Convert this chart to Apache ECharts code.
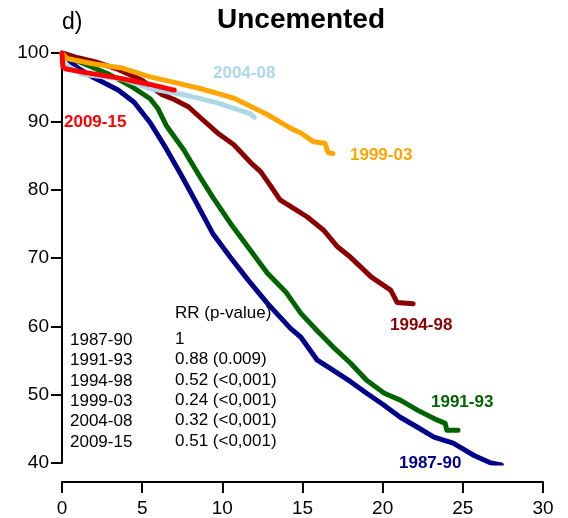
<!DOCTYPE html>
<html>
<head>
<meta charset="utf-8">
<script src="https://cdn.jsdelivr.net/npm/echarts@6/dist/echarts.min.js"></script>
<style>
  html, body { margin: 0; padding: 0; background: #fff; }
  #chart { width: 568px; height: 518px; }
</style>
</head>
<body>
<div id="chart"></div>
<script>
// years since operation (x) and survival % (y)
var t8790 = [0, 0.5, 1, 1.9, 2.5, 3.5, 4.5, 5.5, 6.5, 7.4, 8.4, 9.4, 10.5, 11.6, 12.8, 14.25, 14.9, 15.9, 16.9, 18, 19, 20, 21.1, 22.2, 23.2, 24.4, 25.7, 26.75, 27.4];
var v8790 = [100, 98.8, 97.8, 96.5, 95.8, 94.6, 92.8, 89.8, 86.0, 82.3, 78.0, 73.6, 70.1, 66.8, 63.4, 59.7, 58.4, 55.1, 53.6, 51.9, 50.2, 48.6, 46.7, 45.2, 43.8, 42.9, 41.1, 40.0, 39.7];

var t9193 = [0, 1, 2, 3, 4.4, 5.5, 6.0, 6.5, 7.6, 8.6, 9.4, 10.5, 11.6, 12.8, 14.0, 14.9, 15.9, 16.9, 18, 19, 20.1, 21.1, 22.2, 23.2, 23.9, 24.0, 24.7];
var v9193 = [100, 98.8, 97.8, 96.8, 95.0, 93.3, 91.8, 89.4, 85.8, 81.9, 78.9, 75.1, 71.6, 67.8, 64.9, 61.9, 59.4, 57.0, 54.6, 52.1, 50.2, 49.2, 47.7, 46.5, 45.8, 44.8, 44.8];

var t9498 = [0, 1, 2.1, 3.5, 5, 6.25, 7.0, 7.9, 8.6, 9.7, 10.7, 11.75, 12.4, 13.0, 13.6, 14.5, 15.3, 16.3, 17.2, 18, 19.3, 20.5, 20.9, 21.9];
var v9498 = [100, 99.3, 98.7, 97.6, 96.0, 93.9, 93.2, 92.1, 90.6, 88.3, 86.6, 84.0, 82.6, 80.6, 78.5, 77.2, 76.0, 74.1, 71.6, 70.1, 67.2, 65.3, 63.5, 63.3];

var t9903 = [0, 0.3, 2, 3.75, 5.5, 7, 8.6, 9.7, 10.7, 11.75, 12.8, 14.25, 14.9, 15.7, 16.4, 16.6, 16.9];
var v9903 = [100, 99.2, 98.4, 97.8, 96.5, 95.7, 94.8, 94.1, 93.4, 92.2, 91.0, 89.0, 88.3, 87.0, 86.8, 85.4, 85.3];

var t0408 = [0, 0.1, 1.3, 3.75, 5.5, 7.6, 9.7, 11.75, 12.0];
var v0408 = [100, 98.4, 96.9, 96.2, 94.8, 93.9, 92.7, 91.1, 90.6];

var t0915 = [0, 0.05, 0.2, 1.3, 3.4, 5.5, 6.9, 7.0];
var v0915 = [100, 98.0, 97.7, 97.2, 96.4, 95.4, 94.6, 94.6];

var periods = ['1987-90', '1991-93', '1994-98', '1999-03', '2004-08', '2009-15'];
var rrValues = ['1', '0.88 (0.009)', '0.52 (<0,001)', '0.24 (<0,001)', '0.32 (<0,001)', '0.51 (<0,001)'];
var xTicks = [0, 30, 5];
var yTicks = [40, 100, 10];

var colors = {
  '1987-90': '#00008B',
  '1991-93': '#006400',
  '1994-98': '#8B0000',
  '1999-03': '#FFA500',
  '2004-08': '#ADD8E6',
  '2009-15': '#FF0000'
};

function pairs(t, v) {
  var out = [];
  for (var i = 0; i < t.length; i++) out.push([t[i], v[i]]);
  return out;
}

function curve(name, t, v) {
  return {
    name: name,
    type: 'line',
    data: pairs(t, v),
    showSymbol: false,
    symbol: 'none',
    smooth: false,
    lineStyle: { color: colors[name], width: 5, cap: 'round', join: 'round' },
    silent: true,
    animation: false
  };
}

var FONT = '"Liberation Sans", Arial, sans-serif';

var chart = echarts.init(document.getElementById('chart'));

var graphics = [
  { type: 'text', left: 62, top: 11, style: { text: 'd)', font: '23px ' + FONT, fill: '#000' } },
  { type: 'text', left: 217, top: 6, style: { text: 'Uncemented', font: 'bold 28px ' + FONT, fill: '#000' } },
  { type: 'text', left: 175, top: 305, style: { text: 'RR (p-value)', font: '17px ' + FONT, fill: '#000' } },
  // curve labels
  { type: 'text', left: 213, top: 65, style: { text: '2004-08', font: 'bold 17px ' + FONT, fill: colors['2004-08'] } },
  { type: 'text', left: 64, top: 114, style: { text: '2009-15', font: 'bold 17px ' + FONT, fill: colors['2009-15'] } },
  { type: 'text', left: 350, top: 147, style: { text: '1999-03', font: 'bold 17px ' + FONT, fill: colors['1999-03'] } },
  { type: 'text', left: 390, top: 317, style: { text: '1994-98', font: 'bold 17px ' + FONT, fill: colors['1994-98'] } },
  { type: 'text', left: 431, top: 394, style: { text: '1991-93', font: 'bold 17px ' + FONT, fill: colors['1991-93'] } },
  { type: 'text', left: 399, top: 455, style: { text: '1987-90', font: 'bold 17px ' + FONT, fill: colors['1987-90'] } }
];

// RR table
for (var i = 0; i < periods.length; i++) {
  graphics.push({ type: 'text', left: 70, top: 332 + i * 20.3, style: { text: periods[i], font: '17px ' + FONT, fill: '#000' } });
  graphics.push({ type: 'text', left: 175, top: 331 + i * 20.3, style: { text: rrValues[i], font: '17px ' + FONT, fill: '#000' } });
}

chart.setOption({
  animation: false,
  grid: { left: 62, right: 25, top: 53, bottom: 55, containLabel: false },
  xAxis: {
    type: 'value',
    min: xTicks[0], max: xTicks[1], interval: xTicks[2],
    offset: 19,
    axisLine: { show: true, lineStyle: { color: '#000', width: 2 } },
    axisTick: { show: true, inside: false, length: 11, lineStyle: { color: '#000', width: 2 } },
    axisLabel: { color: '#000', fontSize: 19, fontFamily: FONT, margin: 17 },
    splitLine: { show: false }
  },
  yAxis: {
    type: 'value',
    min: yTicks[0], max: yTicks[1], interval: yTicks[2],
    axisLine: { show: true, lineStyle: { color: '#000', width: 2 } },
    axisTick: { show: true, inside: false, length: 11, lineStyle: { color: '#000', width: 2 } },
    axisLabel: { color: '#000', fontSize: 19, fontFamily: FONT, margin: 13 },
    splitLine: { show: false }
  },
  series: [
    curve('1987-90', t8790, v8790),
    curve('1991-93', t9193, v9193),
    curve('1994-98', t9498, v9498),
    curve('2004-08', t0408, v0408),
    curve('1999-03', t9903, v9903),
    curve('2009-15', t0915, v0915)
  ],
  graphic: graphics
});
</script>
</body>
</html>
